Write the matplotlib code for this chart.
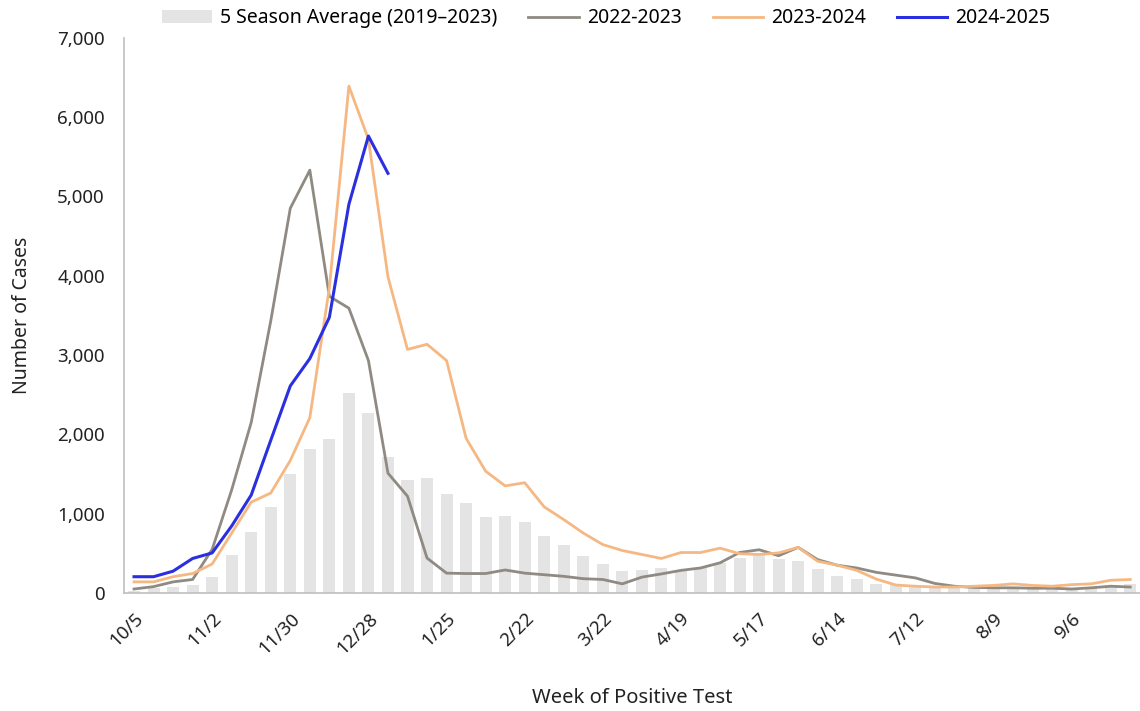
import numpy as np
import matplotlib
matplotlib.use("Agg")
import matplotlib.pyplot as plt

plt.rcParams["font.family"] = ["Noto Sans", "DejaVu Sans"]

# weekly case counts, week starting 10/5 (52 weeks)
avg_5season = [30, 65, 80, 105, 205, 480, 765, 1085, 1500, 1810, 1935, 2520, 2275,
               1720, 1420, 1445, 1250, 1130, 960, 975, 895, 715, 600, 470, 360, 275,
               295, 315, 280, 315, 380, 440, 485, 430, 400, 305, 210, 170, 115, 95,
               85, 65, 70, 70, 65, 65, 65, 60, 60, 65, 90, 110]
s2022 = [50, 80, 140, 170, 550, 1300, 2150, 3430, 4850, 5330, 3740, 3590, 2930,
         1510, 1220, 440, 250, 245, 245, 290, 250, 230, 210, 180, 170, 115,
         200, 240, 285, 315, 380, 510, 545, 470, 575, 420, 350, 315, 260, 225,
         190, 120, 85, 70, 65, 65, 60, 60, 50, 65, 85, 75]
s2023 = [140, 140, 205, 245, 365, 755, 1145, 1260, 1670, 2210, 3850, 6390, 5720,
         3985, 3070, 3135, 2930, 1950, 1535, 1350, 1390, 1085, 925, 755, 610, 535,
         485, 435, 510, 510, 565, 495, 485, 505, 575, 400, 350, 285, 175, 100,
         85, 75, 75, 85, 95, 115, 95, 85, 105, 115, 160, 170]
s2024 = [205, 205, 275, 435, 505, 845, 1235, 1925, 2610, 2955, 3475, 4900, 5760, 5290]

tick_labels = ["10/5", "11/2", "11/30", "12/28", "1/25", "2/22", "3/22",
               "4/19", "5/17", "6/14", "7/12", "8/9", "9/6"]

x = np.arange(len(avg_5season))

fig = plt.figure(figsize=(11.4, 7.11), dpi=100)
ax = fig.add_axes([0.109, 0.166, 0.891, 0.781])

bars = ax.bar(x, avg_5season, width=0.62, color="#e4e4e4", label="5 Season Average (2019\u20132023)", zorder=1)
l1, = ax.plot(x, s2022, color="#8f8a82", lw=2.0, label="2022-2023", zorder=2)
l2, = ax.plot(x, s2023, color="#f6b883", lw=2.0, label="2023-2024", zorder=3)
l3, = ax.plot(np.arange(len(s2024)), s2024, color="#2a2fe0", lw=2.2, label="2024-2025", zorder=4)

ax.set_xlim(-0.5, len(x) - 0.5)
ax.set_ylim(0, 7000)
ax.set_yticks(np.arange(0, 7001, 1000))
ax.set_yticklabels(["{:,}".format(v) for v in range(0, 7001, 1000)])
ax.set_xticks(x[::4])
ax.set_xticklabels(tick_labels, rotation=45, ha="right", rotation_mode="anchor")

ax.tick_params(axis="both", length=0, labelsize=13.5, colors="#222222")
ax.tick_params(axis="y", pad=14)
ax.tick_params(axis="x", pad=12)

for side in ["top", "right"]:
    ax.spines[side].set_visible(False)
for side in ["left", "bottom"]:
    ax.spines[side].set_color("#bfbfbf")
    ax.spines[side].set_linewidth(1.2)

ax.set_xlabel("Week of Positive Test", fontsize=14.5, color="#222222", labelpad=22)
ax.set_ylabel("Number of Cases", fontsize=14, color="#222222", labelpad=18)

fig.legend([bars, l1, l2, l3], [h.get_label() for h in [bars, l1, l2, l3]],
           loc="center", bbox_to_anchor=(606 / 1140, 0.974), ncol=4, frameon=False,
           fontsize=14, handlelength=2.6, columnspacing=1.6, handletextpad=0.4)

fig.savefig("out.png", dpi=100)
